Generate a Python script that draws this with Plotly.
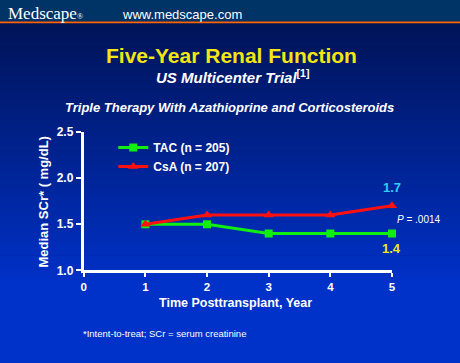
import plotly.graph_objects as go

years = [1, 2, 3, 4, 5]
tac = [1.5, 1.5, 1.4, 1.4, 1.4]
csa = [1.5, 1.6, 1.6, 1.6, 1.7]
tac_name = "TAC (n = 205)"
csa_name = "CsA (n = 207)"
x_ticks = [0, 1, 2, 3, 4, 5]
y_ticks = [1.0, 1.5, 2.0, 2.5]

W, H = 460, 363
FONT = "Arial, Liberation Sans, sans-serif"

def px(x):
    return x / W

def py(y):
    return 1 - y / H

fig = go.Figure()
fig.add_trace(go.Scatter(x=years, y=tac, name=tac_name, mode="lines+markers", cliponaxis=False,
                         line=dict(color="#11ee11", width=3),
                         marker=dict(symbol="square", size=8, color="#11ee11")))
fig.add_trace(go.Scatter(x=years, y=csa, name=csa_name, mode="lines+markers", cliponaxis=False,
                         line=dict(color="#ff1010", width=3),
                         marker=dict(symbol="triangle-up", size=9, color="#ff1010")))

shapes = []
# gradient background
top, bottom = 17, 290
c0 = (0, 20, 88)
c1 = (0, 49, 200)
n = 60
for i in range(n):
    y0 = top + (bottom - top) * i / n
    y1 = top + (bottom - top) * (i + 1) / n + 0.6
    t = i / (n - 1)
    col = "rgb(%d,%d,%d)" % tuple(round(a + (b - a) * t) for a, b in zip(c0, c1))
    shapes.append(dict(type="rect", xref="paper", yref="paper", x0=-0.02, x1=1.02,
                       y0=py(y1), y1=py(y0), fillcolor=col, line=dict(width=0), layer="below"))
shapes.append(dict(type="rect", xref="paper", yref="paper", x0=-0.02, x1=1.02,
                   y0=-0.02, y1=py(bottom), fillcolor="rgb(0,49,200)", line=dict(width=0), layer="below"))
# header bar
shapes.append(dict(type="rect", xref="paper", yref="paper", x0=-0.02, x1=1.02,
                   y0=py(15), y1=1.02, fillcolor="#003366", line=dict(width=0), layer="below"))
shapes.append(dict(type="rect", xref="paper", yref="paper", x0=-0.02, x1=1.02,
                   y0=py(17), y1=py(15), fillcolor="#ff6600", line=dict(width=0), layer="below"))

ann = [
    dict(text="Medscape<span style='font-size:8px'>®</span>", x=px(3), y=py(7), xanchor="left", yanchor="middle",
         font=dict(family="Liberation Serif, DejaVu Serif, serif", size=17, color="white")),
    dict(text="www.medscape.com", x=px(119), y=py(8), xanchor="left", yanchor="middle",
         font=dict(family=FONT, size=13, color="white")),
    dict(text="<b>Five-Year Renal Function</b>", x=px(232), y=py(50), xanchor="center", yanchor="middle",
         font=dict(family=FONT, size=21, color="#f2e614")),
    dict(text="<b><i>US Multicenter Trial</i></b><b><sup>[1]</sup></b>", x=px(233), y=py(72), xanchor="center",
         yanchor="middle", font=dict(family=FONT, size=15, color="white")),
    dict(text="<b><i>Triple Therapy With Azathioprine and Corticosteroids</i></b>", x=px(230), y=py(105),
         xanchor="center", yanchor="middle", font=dict(family=FONT, size=13, color="white")),
    dict(text="<b>Median SCr* ( mg/dL)</b>", x=px(41), y=py(203), xanchor="center", yanchor="middle",
         textangle=-90, font=dict(family=FONT, size=13, color="white")),
    dict(text="<b>Time Posttransplant, Year</b>", x=px(236), y=py(308), xanchor="center", yanchor="middle",
         font=dict(family=FONT, size=12.5, color="white")),
    dict(text="*Intent-to-treat; SCr = serum creatinine", x=px(79), y=py(340), xanchor="left", yanchor="middle",
         font=dict(family=FONT, size=9.5, color="white")),
    dict(text="<b>1.7</b>", x=5, y=csa[-1], xref="x", yref="y", yshift=9, xanchor="center", yanchor="bottom",
         font=dict(family=FONT, size=13, color="#33ccff"), showarrow=False),
    dict(text="<b>1.4</b>", x=5, y=tac[-1], xref="x", yref="y", yshift=-5, xanchor="center", yanchor="top",
         font=dict(family=FONT, size=13, color="#f2e614"), showarrow=False),
    dict(text="<i>P</i> = .0014", x=px(398), y=py(221), xanchor="left", yanchor="middle",
         font=dict(family=FONT, size=10, color="white")),
]
for a in ann:
    a.setdefault("xref", "paper")
    a.setdefault("yref", "paper")
    a.setdefault("showarrow", False)

fig.update_layout(
    width=W, height=H,
    margin=dict(l=0, r=0, t=0, b=0),
    paper_bgcolor="#001460", plot_bgcolor="rgba(0,0,0,0)",
    shapes=shapes, annotations=ann,
    showlegend=True,
    legend=dict(x=px(112), y=py(131), xanchor="left", yanchor="top", bgcolor="rgba(0,0,0,0)",
                font=dict(family=FONT, size=12, color="white", weight="bold"), tracegroupgap=0, itemwidth=30),
    xaxis=dict(domain=[px(82), px(395)], range=[0, 5], tickvals=x_ticks, showgrid=False, zeroline=False,
               showline=True, linecolor="white", linewidth=3, ticks="outside", tickcolor="white",
               tickwidth=2, ticklen=4, tickfont=dict(family=FONT, size=11.5, color="white", weight="bold"),
               fixedrange=True),
    yaxis=dict(domain=[py(274), py(130)], range=[1.0, 2.5], tickvals=y_ticks, tickformat=".1f",
               showgrid=False, zeroline=False, showline=True, linecolor="white", linewidth=3,
               ticks="outside", tickcolor="white", tickwidth=2, ticklen=5,
               tickfont=dict(family=FONT, size=12, color="white", weight="bold"), fixedrange=True),
)
fig.write_html("out.html", config={"displayModeBar": False},
               post_script="document.body.style.margin='0';document.body.style.overflow='hidden';")
